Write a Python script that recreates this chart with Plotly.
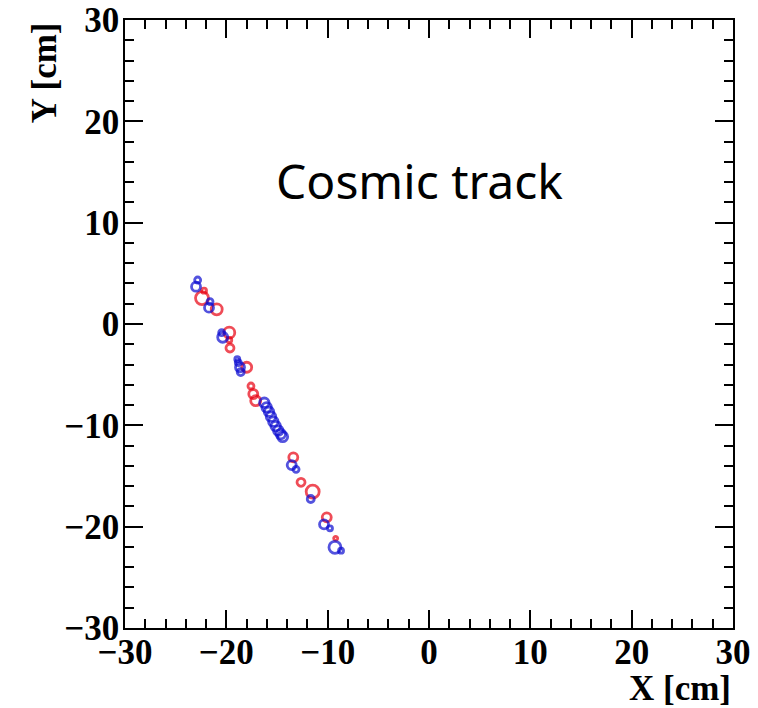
import plotly.graph_objects as go

# Blue hits
blue_x = [-22.83, -22.99, -21.61, -21.71, -20.46, -20.36, -18.92, -18.82, -18.65, -18.58,
          -16.25, -16.02, -15.79, -15.59, -15.36, -15.13, -14.87, -14.63, -14.44,
          -13.55, -13.12, -11.67, -10.36, -9.77, -9.28, -8.68]
blue_y = [4.34, 3.68, 2.20, 1.61, -0.86, -1.31, -3.48, -3.82, -4.27, -4.74,
          -7.77, -8.22, -8.66, -9.15, -9.64, -10.07, -10.53, -10.86, -11.12,
          -13.92, -14.34, -17.27, -19.77, -20.16, -22.04, -22.37]
blue_s = [6, 9, 6, 9, 6, 10, 5, 6, 9, 7,
          9.5, 9.5, 9.5, 9.5, 9.5, 9.5, 9.5, 9.5, 10,
          9, 6, 7, 9, 5, 12, 5]

# Red hits
red_x = [-22.20, -22.40, -20.95, -19.71, -19.71, -19.64, -17.99, -17.57, -17.34, -17.10,
         -13.39, -12.63, -11.48, -10.09, -9.21]
red_y = [3.29, 2.56, 1.45, -0.86, -1.58, -2.37, -4.27, -6.12, -6.91, -7.57,
         -13.16, -15.62, -16.55, -19.08, -21.15]
red_s = [5, 13, 11, 11, 5, 8, 10, 6, 9, 10,
         9, 8, 13, 9, 4]

tick_vals = [-30, -20, -10, 0, 10, 20, 30]
tick_text = ["\u221230", "\u221220", "\u221210", "0", "10", "20", "30"]

fig = go.Figure()
fig.add_trace(go.Scatter(x=red_x, y=red_y, mode="markers",
                         marker=dict(symbol="circle-open", size=red_s, color="#e80010",
                                     line=dict(width=2.8, color="#e80010")),
                         showlegend=False))
fig.add_trace(go.Scatter(x=blue_x, y=blue_y, mode="markers",
                         marker=dict(symbol="circle-open", size=blue_s, color="#0a0ad0",
                                     line=dict(width=2.8, color="#0a0ad0")),
                         showlegend=False))

tickfont = dict(family="Liberation Serif", size=35, color="black", weight="bold")
axis_common = dict(
    range=[-30, 30], tickmode="array", tickvals=tick_vals, ticktext=tick_text,
    ticks="inside", ticklen=18, tickwidth=1.5, tickcolor="black",
    showline=True, linecolor="black", linewidth=1.5, mirror="allticks",
    showgrid=False, zeroline=False, tickfont=tickfont, automargin=False,
    ticklabeloverflow="allow",
    minor=dict(ticks="inside", ticklen=9, dtick=2, tick0=0, tickcolor="black", tickwidth=1.5, showgrid=False),
)
fig.update_xaxes(**axis_common, ticklabelstandoff=-8)
fig.update_yaxes(**axis_common, ticklabelstandoff=-3)

fig.add_annotation(x=-0.9, y=14.2, xref="x", yref="y", text="Cosmic track", showarrow=False,
                   font=dict(family="Noto Sans", size=48, color="black"))
fig.add_annotation(x=1.0, y=-0.099, xref="paper", yref="paper", xanchor="right", yanchor="middle",
                   text="X [cm]", showarrow=False,
                   font=dict(family="Liberation Serif", size=35, color="black", weight="bold"))
fig.add_annotation(x=-0.132, y=1.0, xref="paper", yref="paper", xanchor="center", yanchor="top",
                   text="Y [cm]", showarrow=False, textangle=-90,
                   font=dict(family="Liberation Serif", size=35, color="black", weight="bold"))

fig.update_layout(
    width=750, height=700,
    margin=dict(l=117, r=25, t=12, b=80),
    plot_bgcolor="white", paper_bgcolor="white",
)
fig.write_html("out.html")
